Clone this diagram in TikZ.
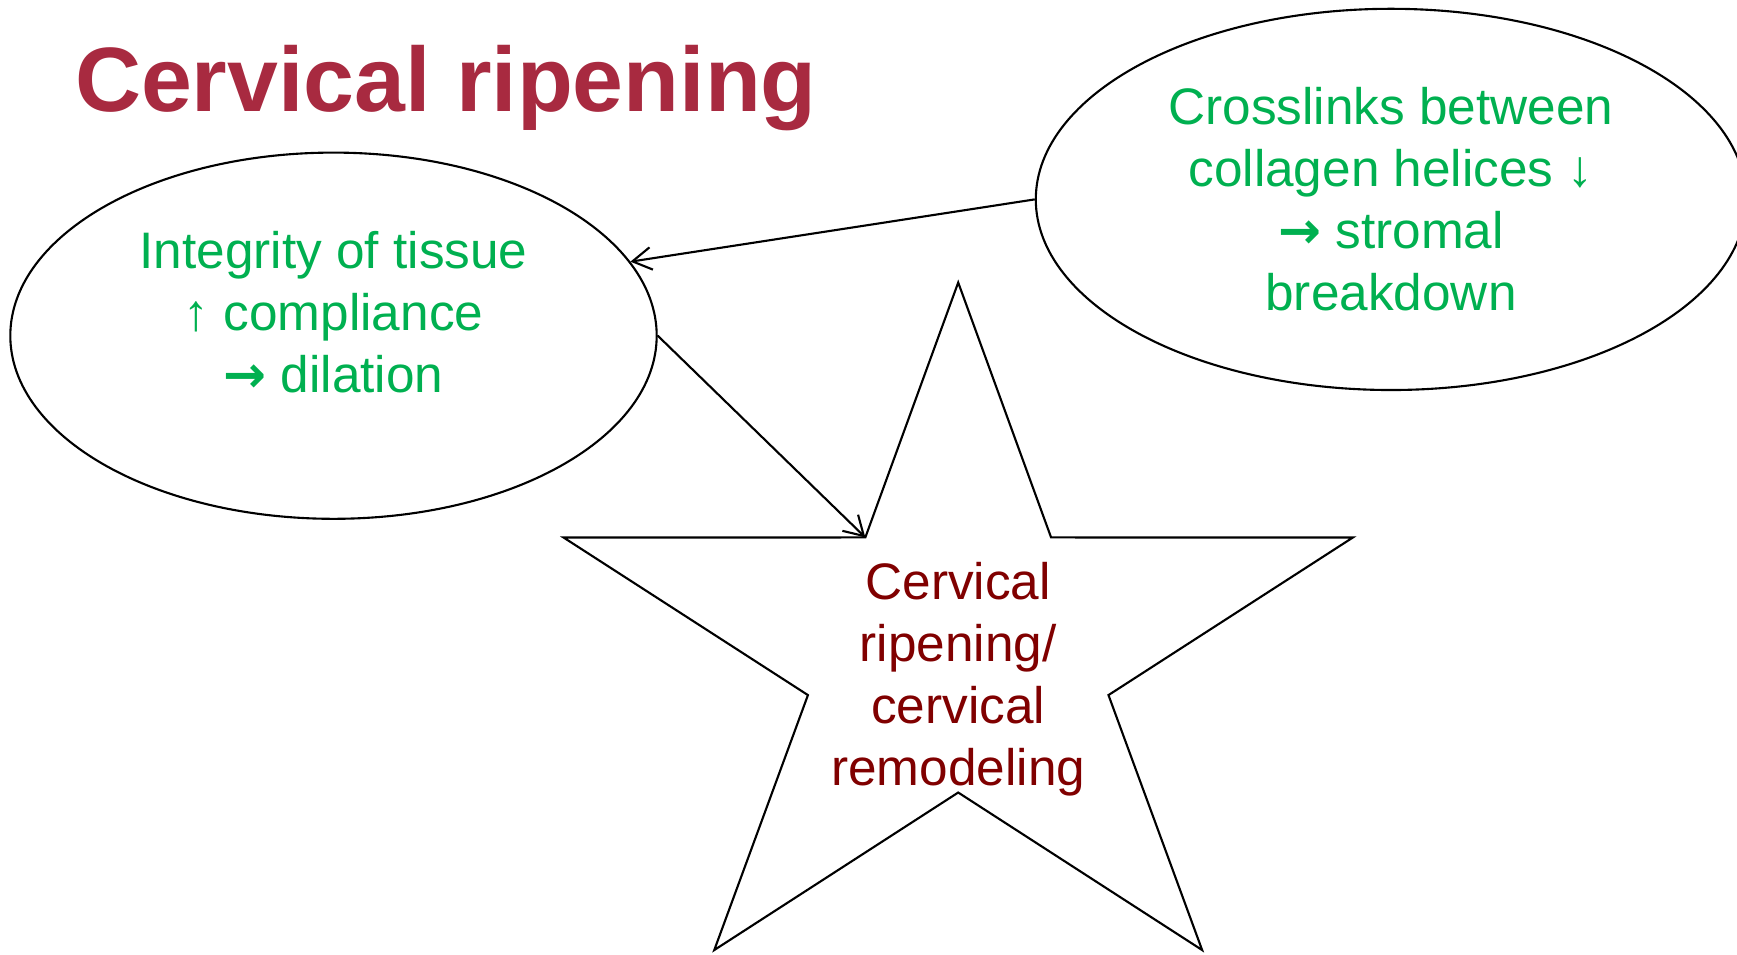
\documentclass[tikz,border=0pt]{standalone}
\usepackage{fontspec}
\setmainfont{Liberation Sans}
\newfontfamily\arrowfont{DejaVu Sans}
\usetikzlibrary{shapes.geometric,arrows.meta}
\definecolor{titlered}{RGB}{168,42,64}
\definecolor{darkred}{RGB}{128,0,0}
\definecolor{textgreen}{RGB}{0,176,80}
\newcommand{\thenarrow}{{\arrowfont\bfseries →}}

\begin{document}
\begin{tikzpicture}[x=0.01cm, y=-0.01cm, line width=0.6pt,
  bubble/.style={draw, ellipse, inner sep=0pt},
  txt/.style={text=textgreen, align=center, inner sep=0pt,
    font=\fontsize{14.6}{17.6}\selectfont},
  arr/.style={-{Straight Barb[length=5.4pt,width=6.4pt]}}]
  \useasboundingbox (0,0) rectangle (1737,954);
  \node[anchor=base west, inner sep=0pt, text=titlered,
    font=\bfseries\fontsize{26}{31}\selectfont] (title) at (74,111) {Cervical ripening};
  \node[bubble, minimum width=6.46cm, minimum height=3.66cm] (integrity) at (333.5,335.7) {};
  \node[txt] (integritytxt) at (333.5,312) {Integrity of tissue\\↑ compliance\\\thenarrow{} dilation};
  \node[bubble, txt, minimum width=7.10cm, minimum height=3.81cm] (crosslinks) at (1391,199.4)
    {Crosslinks between\\collagen helices ↓\\\thenarrow{} stromal\\breakdown};
  % star around the remodeling text
  \coordinate (starc) at (958.2,651.5);
  \draw[shift={(starc)}] (270:415 and 369)
    \foreach \a in {270,342,54,126,198} {-- (\a+36:158 and 141) -- (\a+72:415 and 369)} -- cycle;
  \coordinate (notch) at ([shift={(234:158 and 141)}]starc);
  \node[txt, text=darkred] (remodel) at (958.2,679.5) {Cervical\\ripening/\\cervical\\remodeling};
  \draw[arr] (crosslinks.west) -- (integrity.14);
  \draw[arr] (integrity.east) -- (notch);
\end{tikzpicture}
\end{document}
